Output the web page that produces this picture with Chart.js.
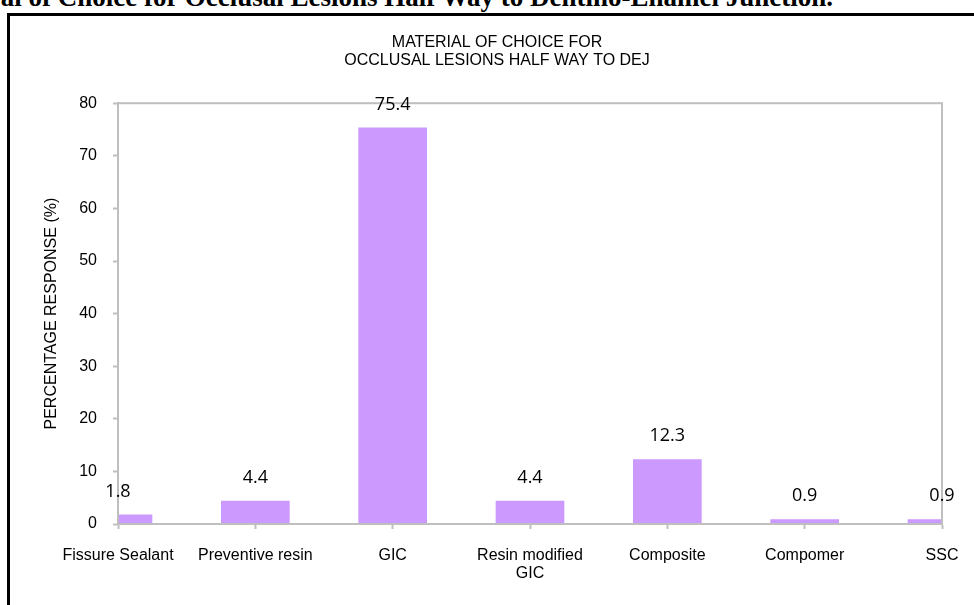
<!DOCTYPE html>
<html>
<head>
<meta charset="utf-8">
<script src="https://cdn.jsdelivr.net/npm/chart.js@4.4.1/dist/chart.umd.min.js"></script>
<style>
  html, body { margin: 0; padding: 0; background: #fff; width: 974px; height: 605px; overflow: hidden; }
  #heading { position: absolute; right: 141px; top: -16px; font-family: "Liberation Serif", "Times New Roman", serif; font-weight: bold; font-size: 27px; line-height: 27px; white-space: nowrap; color: #000; }
  #frame { position: absolute; left: 7px; top: 13px; width: 1000px; height: 700px; border-left: 3px solid #000; border-top: 3px solid #000; }
  #wrap { position: absolute; left: 10px; top: 0px; width: 980px; height: 605px; }
</style>
</head>
<body>
<div id="heading">al of Choice for Occlusal Lesions Half Way to Dentino-Enamel Junction.</div>
<div id="frame"></div>
<div id="wrap"><canvas id="c" width="980" height="605"></canvas></div>
<script>
const categories = ["Fissure Sealant", "Preventive resin", "GIC", ["Resin modified", "GIC"], "Composite", "Compomer", "SSC"];
const percentages = [1.8, 4.4, 75.4, 4.4, 12.3, 0.9, 0.9];
const titleLines = ["MATERIAL OF CHOICE FOR", "OCCLUSAL LESIONS HALF WAY TO DEJ"];
const yAxisTitle = "PERCENTAGE RESPONSE (%)";
const yMin = 0, yMax = 80, yStep = 10;

const AXIS = '#BFBFBF';

const plotBorder = {
  id: 'plotBorder',
  afterDatasetsDraw(chart) {
    const {ctx, chartArea: a} = chart;
    ctx.save();
    ctx.strokeStyle = AXIS;
    ctx.lineWidth = 2;
    ctx.strokeRect(a.left, a.top, a.right - a.left, a.bottom - a.top);
    ctx.restore();
  }
};

const valueLabels = {
  id: 'valueLabels',
  afterDraw(chart) {
    const {ctx} = chart;
    const meta = chart.getDatasetMeta(0);
    ctx.save();
    ctx.font = '18px "Open Sans", sans-serif';
    ctx.fillStyle = '#000';
    ctx.textAlign = 'center';
    ctx.textBaseline = 'middle';
    meta.data.forEach((bar, i) => {
      ctx.fillText(String(percentages[i]), bar.x, bar.y - 23);
    });
    ctx.restore();
  }
};

new Chart(document.getElementById('c'), {
  type: 'bar',
  data: {
    labels: categories,
    datasets: [{
      data: percentages,
      backgroundColor: '#CC99FF',
      borderWidth: 0,
      categoryPercentage: 0.5,
      barPercentage: 1,
      clip: 0
    }]
  },
  options: {
    responsive: false,
    animation: false,
    devicePixelRatio: 1,
    layout: { padding: { left: 42, right: 48, top: 0, bottom: 0 } },
    plugins: {
      legend: { display: false },
      tooltip: { enabled: false },
      title: {
        display: true,
        text: titleLines,
        color: '#000',
        font: { family: 'Arial, "Liberation Sans", sans-serif', size: 16, weight: 'normal', lineHeight: 1.1 },
        padding: { top: 34, bottom: 34 }
      }
    },
    scales: {
      x: {
        type: 'category',
        offset: false,
        grid: { display: true, offset: false, drawOnChartArea: false, drawTicks: true, tickLength: 5, tickWidth: 2, tickColor: AXIS, color: AXIS },
        border: { display: true, color: AXIS, width: 2 },
        ticks: {
          color: '#000',
          padding: 18,
          maxRotation: 0,
          autoSkip: false,
          font: { family: 'Arial, "Liberation Sans", sans-serif', size: 16, lineHeight: 1.1 }
        },
        afterFit(scale) { scale.height = 81; }
      },
      y: {
        min: yMin,
        max: yMax,
        grid: { display: true, drawOnChartArea: false, drawTicks: true, tickLength: 5, tickWidth: 2, tickColor: AXIS, color: AXIS },
        border: { display: true, color: AXIS, width: 2 },
        ticks: {
          stepSize: yStep,
          color: '#000',
          padding: 16,
          font: { family: 'Arial, "Liberation Sans", sans-serif', size: 16 }
        },
        title: {
          display: true,
          text: yAxisTitle,
          color: '#000',
          padding: { top: -10, bottom: 4 },
          font: { family: 'Arial, "Liberation Sans", sans-serif', size: 16 }
        },
        afterFit(scale) { scale.width = 66; }
      }
    }
  },
  plugins: [plotBorder, valueLabels]
});
</script>
</body>
</html>
